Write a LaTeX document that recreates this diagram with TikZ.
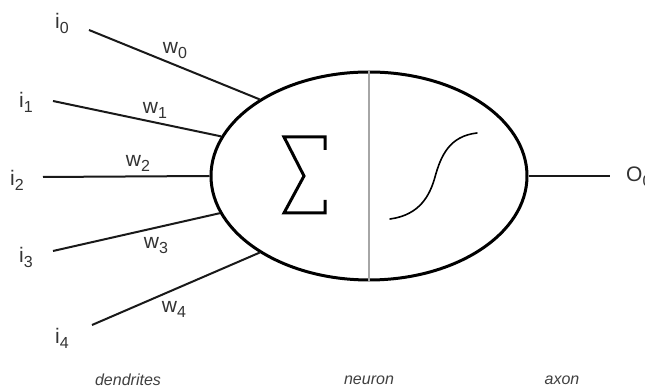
\documentclass[tikz,border=0pt]{standalone}
\usepackage{fontspec}
\setmainfont{Liberation Sans}
\usetikzlibrary{shapes.geometric}
\newcommand{\lbl}[2]{#1\raisebox{-0.45ex}{\fontsize{16}{16}\selectfont #2}}
\tikzset{
  inputline/.style={line width=2pt, black!90},
  lab/.style={font=\fontsize{21}{25}\selectfont, inner sep=0pt, text=black!80},
  caption/.style={font=\fontsize{16}{19}\selectfont\itshape, inner sep=0pt, text=black!75},
  body/.style={ellipse, draw, line width=3pt, minimum width=316pt, minimum height=208pt, inner sep=0pt},
}
\begin{document}
\begin{tikzpicture}[x=1pt,y=1pt]
\useasboundingbox[fill=white] (0,0) rectangle (645,390);
% neuron body
\node[body] (neuron) at (369,214) {};
\draw[line width=1.2pt, black!35] (neuron.north) -- (neuron.south);
% sigma
\draw[line width=3pt, line join=miter] (325,240) -- (325,253) -- (284,253) -- (304,214) -- (284,177) -- (325,177) -- (325,190);
% sigmoid
\draw[line width=1.6pt, line cap=round] (390,171) .. controls (420,175) and (430,195) .. (435,213) .. controls (441,235) and (450,254) .. (477,257);
% input coordinates
\coordinate (in0) at (89,360);
\coordinate (in1) at (53,289);
\coordinate (in2) at (43,213);
\coordinate (in3) at (53,139);
\coordinate (in4) at (92,65);
\coordinate (out) at (610,214);
\draw[inputline] (in0) -- (neuron.145.3);
\draw[inputline] (in1) -- (neuron.165.7);
\draw[inputline] (in2) -- (neuron.180);
\draw[inputline] (in3) -- (neuron.194.1);
\draw[inputline] (in4) -- (neuron.215.8);
\draw[inputline] (neuron.east) -- (out);
% labels
\node[lab] (li0) at (62,367) {\lbl{i}{0}};
\node[lab] (li1) at (26,288) {\lbl{i}{1}};
\node[lab] (li2) at (17,210) {\lbl{i}{2}};
\node[lab] (li3) at (26,133) {\lbl{i}{3}};
\node[lab] (li4) at (62,52) {\lbl{i}{4}};
\node[lab] (lw0) at (175,339) {\lbl{w}{0}};
\node[lab] (lw1) at (155,280) {\lbl{w}{1}};
\node[lab] (lw2) at (138,227) {\lbl{w}{2}};
\node[lab] (lw3) at (156,144) {\lbl{w}{3}};
\node[lab] (lw4) at (174,81) {\lbl{w}{4}};
\node[lab, anchor=west] (lo0) at (626,213) {\lbl{O}{0}};
\node[caption] (cd) at (128,10) {dendrites};
\node[caption] (cn) at (369,10) {neuron};
\node[caption] (ca) at (562,10) {axon};
\end{tikzpicture}
\end{document}
